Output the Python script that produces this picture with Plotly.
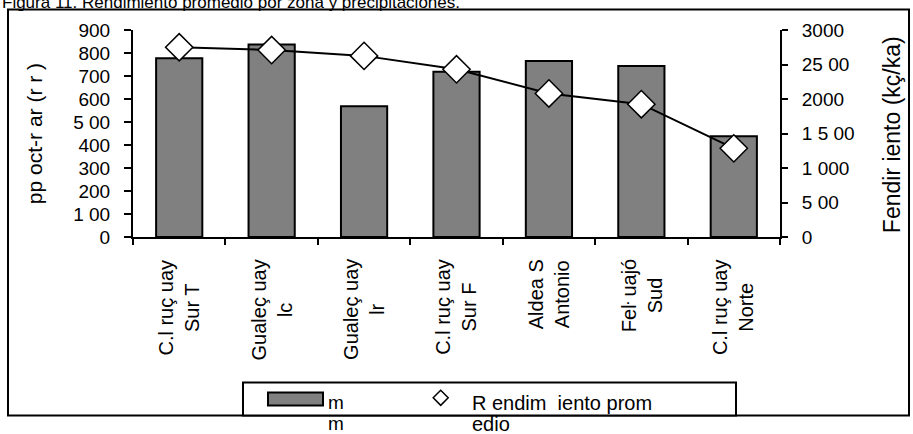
import plotly.graph_objects as go

categories = ["C.l ruç uay<br>Sur T", "Gualeç uay<br>lc", "Gualeç uay<br>lr", "C.l ruç uay<br>Sur F",
              "Aldea S<br>Antonio", "Feŀ uajó<br>Sud", "C.l ruç uay<br>Norte"]
cat_ids = ["c1", "c2", "c3", "c4", "c5", "c6", "c7"]
precip = [777, 837, 569, 718, 765, 743, 438]
rendimiento = [2750, 2710, 2625, 2430, 2080, 1925, 1285]

left_tickvals = [0, 100, 200, 300, 400, 500, 600, 700, 800, 900]
left_ticktext = ["0", "1 00", "200", "300", "400", "5 00", "600", "700", "800", "900"]
right_tickvals = [0, 500, 1000, 1500, 2000, 2500, 3000]
right_ticktext = ["0", "5 00", "1 000", "1 5 00", "2000", "25 00", "3000"]

title_text = "Figura 11. Rendimiento promedio por zona y precipitaciones."
left_title = "pp oct-r ar (r r )"
right_title = "Fendir iento (kç/ka)"
legend_bar = ["m", "m"]
legend_line = ["R endim  iento prom", "edio"]

W, H = 913, 434
L, R, T, B = 133, 780, 30, 236.7
PW, PH = R - L, B - T


def px(x):
    return (x - L) / PW


def py(y):
    return (B - y) / PH


FONT = "Liberation Sans, Arial, sans-serif"

fig = go.Figure()
fig.add_trace(go.Bar(x=cat_ids, y=precip, marker=dict(color="#808080", line=dict(color="black", width=2)),
                     showlegend=False))
fig.add_trace(go.Scatter(x=cat_ids, y=rendimiento, yaxis="y2", mode="lines+markers",
                         line=dict(color="black", width=2),
                         marker=dict(symbol="diamond", size=21, color="white",
                                     line=dict(color="black", width=1.5)),
                         showlegend=False))

annotations = []
for cid, lab in zip(cat_ids, categories):
    annotations.append(dict(x=cid, xref="x", y=py(257), yref="paper", text=lab, textangle=-90,
                            showarrow=False, xanchor="center", yanchor="top", align="center",
                            font=dict(size=20, family=FONT, color="black")))
annotations += [
    dict(x=px(0), y=py(14.5), xref="paper", yref="paper", text=title_text, showarrow=False,
         xanchor="left", yanchor="bottom", font=dict(size=17, family=FONT, color="black")),
    dict(x=px(34), y=py(134), xref="paper", yref="paper", text=left_title, showarrow=False,
         textangle=-90, xanchor="center", yanchor="middle", font=dict(size=21, family=FONT, color="black")),
    dict(x=px(892), y=py(135), xref="paper", yref="paper", text=right_title, showarrow=False,
         textangle=-90, xanchor="center", yanchor="middle", font=dict(size=23, family=FONT, color="black")),
]
for i, (a, b) in enumerate(zip(legend_bar, legend_line)):
    yc = 402 + 21 * i
    annotations.append(dict(x=px(326), y=py(yc), xref="paper", yref="paper", text=a, showarrow=False,
                            xanchor="left", yanchor="middle", font=dict(size=19, family=FONT, color="black")))
    annotations.append(dict(x=px(470), y=py(yc), xref="paper", yref="paper", text=b, showarrow=False,
                            xanchor="left", yanchor="middle", font=dict(size=20, family=FONT, color="black")))

dc_x, dc_y, dh = 440.7, 397.3, 7.5
diamond_path = (f"M {px(dc_x)},{py(dc_y - dh)} L {px(dc_x + dh)},{py(dc_y)} "
                f"L {px(dc_x)},{py(dc_y + dh)} L {px(dc_x - dh)},{py(dc_y)} Z")

shapes = [
    dict(type="rect", xref="paper", yref="paper", x0=px(8), x1=px(909), y0=py(415), y1=py(9.5),
         line=dict(color="black", width=2), fillcolor="rgba(0,0,0,0)", layer="below"),
    dict(type="rect", xref="paper", yref="paper", x0=px(243), x1=px(736), y0=py(415), y1=py(382),
         line=dict(color="black", width=2), fillcolor="white", layer="below"),
    dict(type="rect", xref="paper", yref="paper", x0=px(268), x1=px(323), y0=py(405), y1=py(392),
         line=dict(color="black", width=2), fillcolor="#808080"),
    dict(type="path", xref="paper", yref="paper", path=diamond_path,
         line=dict(color="black", width=1.5), fillcolor="white"),
]

fig.update_layout(
    width=W, height=H,
    margin=dict(l=L, r=W - R, t=T, b=H - B, autoexpand=False),
    paper_bgcolor="white", plot_bgcolor="white",
    bargap=0.5,
    showlegend=False,
    font=dict(family=FONT, color="black"),
    xaxis=dict(type="category", categoryorder="array", categoryarray=cat_ids,
               range=[-0.5, 6.5], showticklabels=False, tickson="boundaries",
               ticks="outside", ticklen=6, tickwidth=2, tickcolor="black",
               showline=True, linecolor="black", linewidth=2, showgrid=False, zeroline=False),
    yaxis=dict(range=[0, 900], tickvals=left_tickvals, ticktext=left_ticktext,
               ticks="outside", ticklen=7, tickwidth=2, tickcolor="black",
               showline=True, linecolor="black", linewidth=2, showgrid=False, zeroline=False,
               tickfont=dict(size=19, family=FONT, color="black"), ticklabelstandoff=10),
    yaxis2=dict(range=[0, 3000], tickvals=right_tickvals, ticktext=right_ticktext,
                overlaying="y", side="right",
                ticks="outside", ticklen=6, tickwidth=2, tickcolor="black",
                showline=True, linecolor="black", linewidth=2, showgrid=False, zeroline=False,
                tickfont=dict(size=19, family=FONT, color="black"), ticklabelstandoff=10),
    annotations=annotations,
    shapes=shapes,
)

fig.write_html("out.html")
